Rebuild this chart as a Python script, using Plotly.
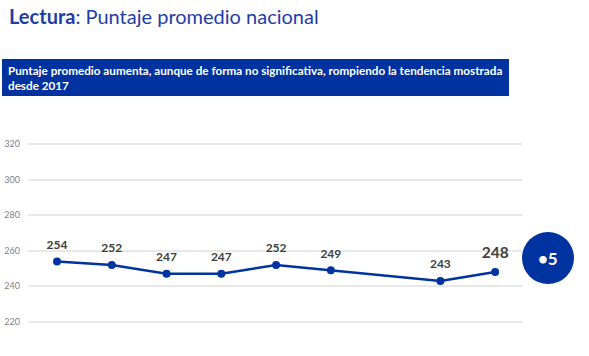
import plotly.graph_objects as go

# ---- data ----
years = ["2013", "2014", "2015", "2016", "2017", "2018", "2022", "2023"]
axis_categories = ["2013", "2014", "2015", "2016", "2017", "2018", "2019-2021", "2022", "2023"]
scores = [254, 252, 247, 247, 252, 249, 243, 248]
y_ticks = [200, 220, 240, 260, 280, 300, 320]
change_label = "•5"
title_bold = "Lectura"
title_rest = ": Puntaje promedio nacional"
subtitle = "Puntaje promedio aumenta, aunque de forma no significativa, rompiendo la tendencia mostrada<br>desde 2017"

BLUE = "#0033A0"
FONT = "Lato"

W, H = 589, 356
L, R, T, B = 28, 67, 126, 0
pw, ph = W - L - R, H - T - B

def px_x(x):
    return (x - L) / pw

def px_y(y):
    return (H - B - y) / ph

label_sizes = [12] * (len(scores) - 1) + [15.5]

fig = go.Figure()
fig.add_trace(go.Scatter(
    x=years, y=scores,
    mode="lines+markers",
    line=dict(color=BLUE, width=2.5),
    marker=dict(color=BLUE, size=8),
    hoverinfo="skip",
))
fig.add_trace(go.Scatter(
    x=years, y=scores,
    mode="markers+text",
    marker=dict(color="rgba(0,0,0,0)", size=14),
    text=[f"<b>{v}</b>" for v in scores],
    textposition="top center",
    textfont=dict(family=FONT, size=label_sizes, color="#404040"),
    cliponaxis=False,
    hoverinfo="skip",
))

fig.update_xaxes(
    type="category", categoryorder="array", categoryarray=axis_categories,
    range=[-0.53, 8.49], visible=False,
)
fig.update_yaxes(
    range=[200.7, 330.3], tickvals=y_ticks,
    showgrid=True, gridcolor="#E8E8E8", gridwidth=1.8,
    zeroline=False, showline=False, ticks="",
    ticklabelstandoff=7,
    tickfont=dict(family=FONT, size=9, color="#808080"),
)

shapes = [
    dict(type="rect", xref="paper", yref="paper",
         x0=px_x(2), x1=px_x(509), y0=px_y(96), y1=px_y(59),
         fillcolor=BLUE, line=dict(width=0), layer="below"),
    dict(type="circle", xref="paper", yref="paper",
         xsizemode="pixel", ysizemode="pixel",
         xanchor=px_x(548), yanchor=px_y(258),
         x0=-26, x1=26, y0=-26, y1=26,
         fillcolor=BLUE, line=dict(width=0)),
]

annotations = [
    dict(text=f"<b>{title_bold}</b>{title_rest}", xref="paper", yref="paper",
         x=px_x(7), y=px_y(2), xanchor="left", yanchor="top", showarrow=False,
         font=dict(family=FONT, size=20, color="#1E3EA6")),
    dict(text=f"<b>{subtitle}</b>", xref="paper", yref="paper",
         x=px_x(6), y=px_y(61), xanchor="left", yanchor="top", showarrow=False,
         align="left",
         font=dict(family=FONT, size=11.7, color="white")),
    dict(text=f"<b>{change_label}</b>", xref="paper", yref="paper",
         x=px_x(548), y=px_y(258), xanchor="center", yanchor="middle", showarrow=False,
         font=dict(family=FONT, size=17, color="white")),
    dict(text="200", xref="paper", yref="y", x=px_x(21), y=200,
         xanchor="right", yanchor="middle", showarrow=False,
         font=dict(family=FONT, size=9, color="#808080")),
]

fig.update_layout(
    width=W, height=H,
    margin=dict(l=L, r=R, t=T, b=B, pad=0),
    plot_bgcolor="white", paper_bgcolor="white",
    showlegend=False,
    shapes=shapes, annotations=annotations,
)

fig.write_html("out.html", config={"displayModeBar": False},
               post_script="document.body.style.margin='0';")
